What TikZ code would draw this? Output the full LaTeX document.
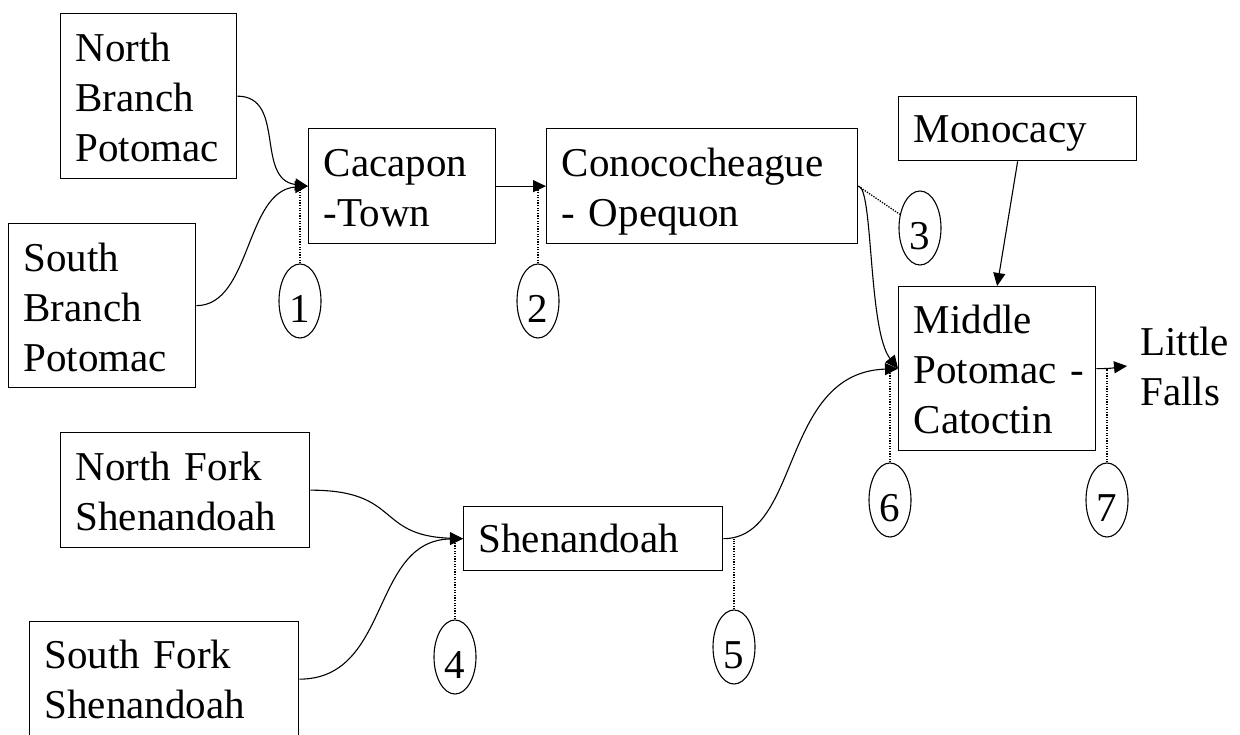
\documentclass[tikz,border=0pt]{standalone}
\usepackage{fontspec}
\setmainfont{Liberation Serif}
\usetikzlibrary{arrows.meta,shapes.geometric}
\newcommand{\bigfs}{\fontsize{41}{50}\selectfont}
\begin{document}
\begin{tikzpicture}[x=1pt,y=-1pt,
  box/.style={draw, line width=1.3pt, rectangle, anchor=north west, align=left,
    inner xsep=15pt, inner ysep=0pt, font=\bigfs, text height=48pt},
  num/.style={draw, ellipse, line width=1.1pt, minimum width=42pt, minimum height=74pt,
    inner sep=0pt, font=\bigfs, text height=42pt, text depth=0pt},
  flow/.style={line width=1.1pt, -{Triangle[length=13pt,width=12pt]}},
  dots/.style={line width=1.3pt, dash pattern=on 1.3pt off 1.3pt},
  lbl/.style={font=\bigfs, align=left}
]
\useasboundingbox (0,0) rectangle (1240,734);
\clip (0,0) rectangle (1240,734);

% boxes
\node[box, text width=146pt, text depth=117pt] (nbp) at (60,13) {North\\Branch\\Potomac};
\node[box, text width=157pt, text depth=116pt] (sbp) at (8,223) {South\\Branch\\Potomac};
\node[box, text width=157pt, text depth=67pt] (cac) at (308,128) {Cacapon\\-Town};
\node[box, text width=281pt, text depth=67pt] (con) at (546,128) {Conococheague\\\mbox{- Opequon}};
\node[box, text width=208pt, text height=46pt, text depth=18pt] (mon) at (898,96) {Monocacy};
\node[box, text width=167pt, text height=47pt, text depth=117pt] (mid) at (898,286) {Middle\\\mbox{Potomac -}\\Catoctin};
\node[box, text width=219pt, text depth=67pt] (nfs) at (60,432) {North Fork\\Shenandoah};
\node[box, text width=239pt, text height=47pt, text depth=68pt] (sfs) at (29,621) {South Fork\\Shenandoah};
\node[box, text width=229pt, text height=46pt, text depth=18pt] (she) at (463,506) {Shenandoah};
\node[lbl, anchor=west, inner xsep=13pt, inner ysep=0pt] (lf) at (1127,366) {Little\\Falls};

% numbered gauges
\node[num] (e1) at (300,301) {1};
\node[num] (e2) at (538,301) {2};
\node[num] (e3) at (920,228) {3};
\node[num] (e4) at (455,657) {4};
\node[num] (e5) at (734,647) {5};
\node[num] (e6) at (890,500) {6};
\node[num] (e7) at (1107,500) {7};

% flows
\draw[flow] (nbp.east) .. controls +(49,0) and +(-53,-7) .. (cac.west);
\draw[flow] (sbp.east) .. controls +(55,0) and +(-63,4.5) .. (cac.west);
\draw[flow] (cac.east) -- (con.west);
\draw[flow] (con.east) .. controls +(15,0) and +(-30,-38) .. (mid.west);
\draw[flow] (mon.south) -- (mid.north);
\draw[flow] (nfs.east) .. controls +(91,0) and +(-88,-3) .. (she.west);
\draw[flow] (sfs.east) .. controls +(92,0) and +(-93,2) .. (she.west);
\draw[flow] (she.east) .. controls +(78,0) and +(-118,4) .. (mid.west);
\draw[flow] (mid.east) .. controls +(20,0) and +(-10,1) .. (lf.west);

% dotted leaders
\draw[dots] (e1.north) -- (e1.north |- cac.west);
\draw[dots] (e2.north) -- (e2.north |- con.west);
\draw[dots] (con.east) -- (e3);
\draw[dots] (e4.north) -- (e4.north |- she.west);
\draw[dots] (e5.north) -- (e5.north |- she.east);
\draw[dots] (e6.north) -- (e6.north |- mid.west);
\draw[dots] (e7.north) -- (e7.north |- mid.east);
\end{tikzpicture}
\end{document}
